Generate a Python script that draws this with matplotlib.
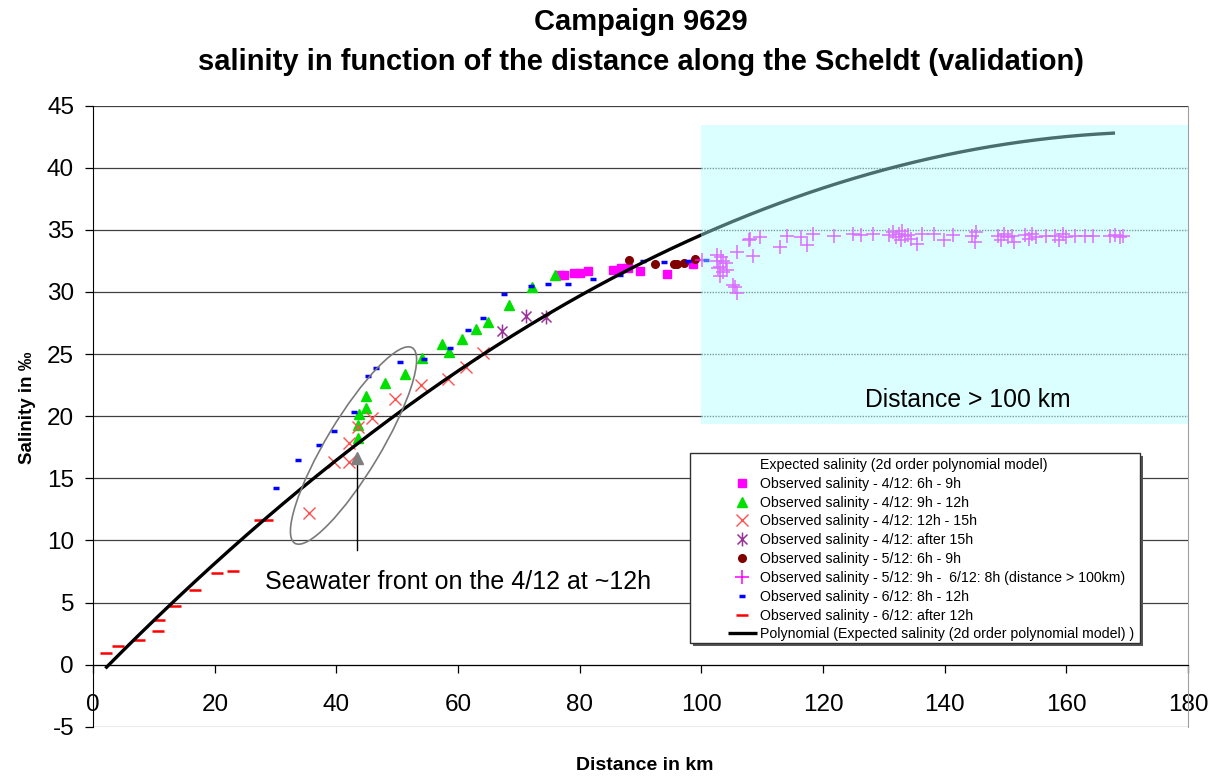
import numpy as np
import matplotlib
matplotlib.use("Agg")
import matplotlib.pyplot as plt
from matplotlib.lines import Line2D
from matplotlib.patches import Rectangle, Ellipse
from matplotlib.path import Path
from matplotlib.transforms import ScaledTranslation

plt.rcParams["font.family"] = ["Liberation Sans", "DejaVu Sans"]

# ---------------------------------------------------------------- data
# expected salinity (2nd order model), used for the polynomial trendline
expected_km = [2, 20, 40, 60, 80, 100, 120, 140, 168]
expected_sal = [-0.30, 8.15, 16.47, 23.65, 29.69, 34.60, 38.37, 41.01, 42.80]

# 4/12 6h - 9h
obs1_km = [76.7, 77.4, 79.1, 80.0, 81.3, 85.4, 86.8, 87.9, 89.9, 94.4, 98.6]
obs1_sal = [31.34, 31.39, 31.50, 31.55, 31.71, 31.77, 31.90, 31.90, 31.71, 31.48, 32.25]

# 4/12 9h - 12h
obs2_km = [43.6, 43.6, 43.7, 44.8, 44.8, 47.9, 51.2, 54.1, 57.3, 58.5, 60.6, 63.0,
           64.9, 68.4, 72.2, 75.9]
obs2_sal = [18.22, 19.29, 20.15, 20.69, 21.63, 22.65, 23.37, 24.71, 25.79, 25.17,
            26.19, 27.02, 27.61, 28.95, 30.38, 31.34]

# 4/12 12h - 15h
obs3_km = [35.4, 39.6, 42.0, 42.0, 43.5, 45.8, 49.7, 53.9, 58.3, 61.3, 64.1]
obs3_sal = [12.23, 16.29, 16.34, 17.82, 19.16, 19.83, 21.36, 22.49, 23.02, 23.94, 25.11]

# 4/12 after 15h
obs4_km = [67.2, 71.2, 74.5]
obs4_sal = [26.86, 28.07, 27.96]

# 5/12 6h - 9h
obs5_km = [88.1, 92.3, 95.5, 96.0, 97.1, 98.9]
obs5_sal = [32.58, 32.25, 32.25, 32.25, 32.36, 32.68]

# 5/12 9h - 6/12 8h (distance > 100 km)
obs6_km = [100.1, 102.5, 103.0, 103.3, 103.6, 104.0, 102.8, 103.5, 104.2, 103.0,
           102.6, 105.8, 108.4, 105.5, 105.8, 105.2, 107.8, 108.0, 109.7, 112.9,
           114.1, 116.4, 117.3, 118.3, 121.8, 124.9, 126.3, 128.2, 130.8, 131.5,
           132.0, 132.5, 133.0, 133.5, 134.0, 134.5, 132.8, 135.5, 136.2, 138.2,
           139.9, 141.3, 144.5, 144.9, 145.1, 148.7, 149.3, 149.8, 150.4, 151.0,
           151.4, 153.2, 153.8, 154.4, 155.0, 156.6, 158.2, 158.8, 159.4, 160.0,
           161.4, 163.0, 164.3, 167.2, 168.0, 168.8, 169.3]
obs6_sal = [32.60, 32.50, 32.00, 32.80, 31.60, 32.30, 31.90, 32.50, 31.80, 31.30,
            33.00, 33.25, 32.90, 30.40, 29.90, 30.60, 34.20, 34.30, 34.45, 33.60,
            34.50, 34.45, 33.80, 34.70, 34.50, 34.70, 34.60, 34.65, 34.60, 34.80,
            34.40, 34.70, 34.90, 34.50, 34.60, 34.30, 34.20, 33.90, 34.70, 34.70,
            34.20, 34.60, 34.50, 34.00, 34.85, 34.50, 34.20, 34.70, 34.40, 34.50,
            34.00, 34.60, 34.30, 34.70, 34.40, 34.50, 34.50, 34.20, 34.70, 34.40,
            34.50, 34.50, 34.50, 34.50, 34.60, 34.40, 34.50]

# 6/12 8h - 12h
obs7_km = [30.0, 33.7, 37.1, 39.6, 42.9, 45.1, 46.5, 50.4, 54.4, 58.6, 61.7, 64.1,
           67.5, 72.0, 74.8, 78.0, 82.2, 86.6, 90.4, 93.9, 97.8, 100.8]
obs7_sal = [14.20, 16.47, 17.66, 18.83, 20.34, 23.26, 23.86, 24.36, 24.58, 25.52,
            26.94, 27.88, 29.80, 30.48, 30.62, 30.62, 31.02, 31.37, 32.50, 32.40,
            32.50, 32.60]

# 6/12 after 12h
obs8_km = [2.1, 4.1, 7.5, 10.8, 10.6, 13.5, 16.7, 20.3, 23.0, 27.4, 28.6]
obs8_sal = [0.93, 1.52, 1.98, 3.57, 2.68, 4.74, 6.03, 7.38, 7.56, 11.62, 11.62]

labels = [
    "Expected salinity (2d order polynomial model)",
    "Observed salinity - 4/12: 6h - 9h",
    "Observed salinity - 4/12: 9h - 12h",
    "Observed salinity - 4/12: 12h - 15h",
    "Observed salinity - 4/12: after 15h",
    "Observed salinity - 5/12: 6h - 9h",
    "Observed salinity - 5/12: 9h -  6/12: 8h (distance > 100km)",
    "Observed salinity - 6/12: 8h - 12h",
    "Observed salinity - 6/12: after 12h",
    "Polynomial (Expected salinity (2d order polynomial model) )",
]

x_ticks = list(range(0, 181, 20))
y_ticks = list(range(-5, 46, 5))

# shaded zone beyond 100 km (x0, y0, x1, y1)
zone = (100, 19.4, 180, 43.45)

# ---------------------------------------------------------------- figure
W, H = 1221, 776
fig = plt.figure(figsize=(W / 100, H / 100), dpi=100)
ax = fig.add_axes([93.2 / W, 1 - 726.7 / H, (1188 - 93.2) / W, (726.7 - 105.7) / H])
ax.set_xlim(0, 180)
ax.set_ylim(-5, 45)

# horizontal gridlines (dotted where they cross the shaded zone)
for v in y_ticks[1:]:
    if zone[1] < v < zone[3]:
        ax.plot([0, zone[0]], [v, v], color="#404040", lw=0.9, zorder=1)
        ax.plot([zone[0], 180], [v, v], color="#505050", lw=1.0, ls=(0, (1, 1)), zorder=1)
    else:
        ax.axhline(v, color="#404040", lw=0.9, zorder=1)
ax.axhline(-5, color="#a0a0a0", lw=1.0, zorder=1)

# asterisk marker (vertical bar + cross)
asterisk = Path([(0, -1), (0, 1), (-0.72, -0.72), (0.72, 0.72), (-0.72, 0.72), (0.72, -0.72)],
                [Path.MOVETO, Path.LINETO, Path.MOVETO, Path.LINETO, Path.MOVETO, Path.LINETO])

mk = dict(linestyle="none", zorder=3)
h0 = Line2D([], [], linestyle="none", marker="none")
h1, = ax.plot(obs1_km, obs1_sal, marker="s", ms=5.5, color="#ff00ff", mec="#ff00ff", **mk)
h2, = ax.plot(obs2_km, obs2_sal, marker="^", ms=6.5, color="#00e000", mec="#00e000", **mk)
h3, = ax.plot(obs3_km, obs3_sal, marker="x", ms=9, mew=1.0, color="#ff5050", **mk)
h4, = ax.plot(obs4_km, obs4_sal, marker=asterisk, ms=10, mew=1.1, color="#993399", **mk)
h5, = ax.plot(obs5_km, obs5_sal, marker="o", ms=5.5, color="#800000", mec="#800000", **mk)
h6, = ax.plot(obs6_km, obs6_sal, marker="+", ms=10, mew=1.1, color="#ff00ff", **mk)
h7, = ax.plot(obs7_km, obs7_sal, marker="_", ms=4.5, mew=2.5, color="#0000ff", **mk)
h8, = ax.plot(obs8_km, obs8_sal, marker="_", ms=8.5, mew=1.8, color="#ff0000", **mk)

# 2nd order polynomial trendline through the expected salinity
coef = np.polyfit(expected_km, expected_sal, 2)
xx = np.linspace(min(expected_km), max(expected_km), 400)
h9, = ax.plot(xx, np.polyval(coef, xx), color="black", lw=2.4, zorder=3.5,
              solid_capstyle="butt")

ax.add_patch(Rectangle((zone[0], zone[1]), zone[2] - zone[0], zone[3] - zone[1],
                       facecolor=(0.68, 1.0, 1.0), alpha=0.43, edgecolor="none", zorder=4))
ax.text(126.9, 21.3, "Distance > 100 km", fontsize=17.8, ha="left", va="center", zorder=6)

# seawater front: ellipse and arrow
ell_tr = fig.dpi_scale_trans + ScaledTranslation(42.8, 17.64, ax.transData)
ax.add_patch(Ellipse((0, 0), 2.28, 0.54, angle=59, transform=ell_tr, facecolor="none",
                     edgecolor="#7a7a7a", lw=1.2, zorder=5))
ax.plot([43.3, 43.3], [9.2, 16.3], color="black", lw=1.0, zorder=5)
ax.plot([43.3], [16.65], marker="^", ms=8, color="#7f7f7f", mec="#7f7f7f", zorder=5)
ax.text(28.3, 6.65, "Seawater front on the 4/12 at ~12h", fontsize=18, ha="left",
        va="center", zorder=6)

# axes styling
ax.spines["top"].set_visible(False)
ax.spines["right"].set_color("#a0a0a0")
ax.spines["left"].set_color("black")
ax.spines["bottom"].set_position(("data", 0))
ax.spines["bottom"].set_color("black")
ax.set_xticks(x_ticks)
ax.set_yticks(y_ticks)
ax.tick_params(axis="both", direction="out", length=5.8, width=0.9, color="black",
               labelsize=17.5)
ax.tick_params(axis="y", pad=8)
ax.tick_params(axis="x", pad=15.5)
ax.set_xticklabels([str(v) for v in x_ticks])
ax.set_yticklabels([str(v) for v in y_ticks])

fig.text(27 / W, 1 - 408 / H, "Salinity in \u2030", rotation=90, fontsize=13.5,
         fontweight="bold", ha="center", va="center")
fig.text(645 / W, 1 - 766 / H, "Distance in km", fontsize=14, fontweight="bold",
         ha="center", va="center")
cx = (93.2 + 1188) / 2 / W
fig.text(cx, 1 - 22 / H, "Campaign 9629", fontsize=21, fontweight="bold",
         ha="center", va="center")
fig.text(cx, 1 - 62 / H, "salinity in function of the distance along the Scheldt (validation)",
         fontsize=21, fontweight="bold", ha="center", va="center")

# legend with a hand-drawn frame and shadow
lx0, ly0, lx1, ly1 = 690, 453, 1140, 643
shadow = Rectangle(((lx0 + 3) / W, 1 - (ly1 + 3) / H), (lx1 - lx0) / W, (ly1 - ly0) / H,
                   transform=fig.transFigure, facecolor="#555555", edgecolor="none",
                   zorder=7)
frame = Rectangle((lx0 / W, 1 - ly1 / H), (lx1 - lx0) / W, (ly1 - ly0) / H,
                  transform=fig.transFigure, facecolor="white", edgecolor="#303030",
                  lw=1.0, zorder=7.1)
fig.add_artist(shadow)
fig.add_artist(frame)
leg = fig.legend([h0, h1, h2, h3, h4, h5, h6, h7, h8, h9], labels, loc="upper left",
                 bbox_to_anchor=(727.7 / W, 1 - 458 / H), frameon=False, fontsize=10.2,
                 handlelength=2.05, handletextpad=0.25, labelspacing=0.34, borderpad=0,
                 borderaxespad=0, numpoints=1)
leg.set_zorder(8)

fig.savefig("out.png", dpi=100, facecolor="white")
